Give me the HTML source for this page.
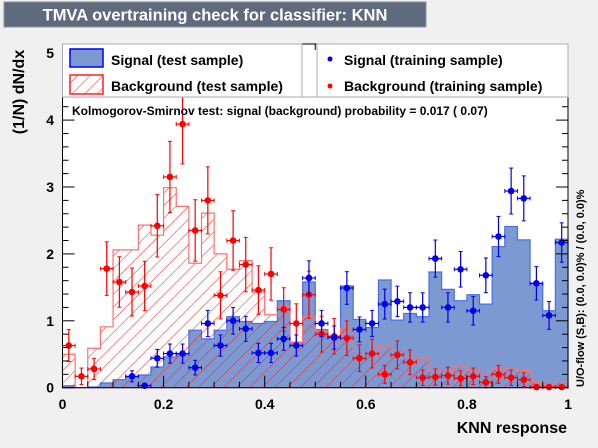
<!DOCTYPE html>
<html><head><meta charset="utf-8">
<style>
html,body{margin:0;padding:0;background:#f0f0f0;}
body{width:598px;height:443px;overflow:hidden;font-family:"Liberation Sans",sans-serif;}
</style></head>
<body>
<svg id="chart" width="598" height="443" xmlns="http://www.w3.org/2000/svg" font-family="Liberation Sans, sans-serif">
<defs>
<pattern id="hatch" patternUnits="userSpaceOnUse" width="9" height="9" patternTransform="rotate(45)">
<line x1="0" y1="0" x2="0" y2="9" stroke="#ff2020" stroke-width="1"/>
</pattern>
</defs>
<rect x="4" y="2" width="422" height="25" fill="#5f6b7c" stroke="#8a94a2"/>
<text x="215" y="20.5" fill="#fff" font-size="16.5" font-weight="bold" text-anchor="middle">TMVA overtraining check for classifier: KNN</text>
<rect x="62.5" y="44" width="505.5" height="343.7" fill="#fff"/>
<g id="bars"></g>
<g id="points"></g>
<g id="axes"></g>
<rect x="62.5" y="44" width="505.5" height="343.7" fill="none" stroke="#000" stroke-width="1"/>
<g>
<rect x="62.5" y="44" width="239.5" height="53" fill="#fff" stroke="#aab" />
<rect x="70" y="49" width="33" height="18" fill="#7d99d1" stroke="#0000ee" stroke-width="1.5"/>
<text x="111" y="65" font-size="14" font-weight="bold">Signal (test sample)</text>
<rect x="70" y="75" width="33" height="19" fill="url(#hatch)" stroke="#ff2020" stroke-width="1.5"/>
<text x="111" y="91" font-size="14" font-weight="bold">Background (test sample)</text>
</g>
<g>
<rect x="317" y="44" width="251" height="53" fill="#fff" stroke="#aab" />
<circle cx="330" cy="59" r="2.5" fill="#0000ee"/>
<text x="344" y="65" font-size="14" font-weight="bold">Signal (training sample)</text>
<circle cx="330" cy="86" r="2.5" fill="#ff0000"/>
<text x="344" y="91" font-size="14" font-weight="bold">Background (training sample)</text>
</g>
<line x1="62.5" y1="97" x2="568" y2="97" stroke="#aab"/>
<text x="72" y="115" font-size="12" font-weight="bold">Kolmogorov-Smirnov test: signal (background) probability = 0.017 ( 0.07)</text>
<text transform="translate(24,92) rotate(-90)" font-size="16" font-weight="bold" text-anchor="middle">(1/N) dN/dx</text>
<text x="567" y="433" font-size="16" font-weight="bold" text-anchor="end">KNN response</text>
<text transform="translate(584,387) rotate(-90)" font-size="11" font-weight="bold">U/O-flow (S,B): (0.0, 0.0)% / (0.0, 0.0)%</text>
</svg>
<script>
const sigTest=[0.03,0,0.01,0.07,0.12,0.16,0.19,0.31,0.46,0.49,0.86,0.73,0.86,1.06,0.99,0.96,0.99,1.30,0.68,1.58,0.87,0.77,1.52,1.02,0.90,1.61,1.01,1.11,1.06,1.73,1.47,1.30,1.39,1.25,2.11,2.41,2.21,1.56,1.15,2.22];
const bkgTest=[0.50,0,0.59,0.91,2.06,2.06,2.43,2.28,2.99,2.71,1.86,2.61,2.00,1.77,1.90,1.43,1.09,1.21,0.67,1.06,0.86,0.77,0.89,0.54,0.54,0.61,0.57,0.45,0.44,0.25,0.25,0.31,0.26,0.24,0.28,0.28,0.26,0.08,0.04,0.09];
const sigTrain=[null,null,null,null,null,0.17,0.03,0.44,0.51,0.51,0.30,0.96,0.63,1.00,0.88,0.52,0.52,0.73,0.63,1.64,0.96,0.75,1.49,0.87,0.96,1.25,1.29,1.20,1.20,1.93,1.20,1.77,1.15,1.68,2.26,2.94,2.83,1.56,1.08,2.17];
const bkgTrain=[0.63,0.17,0.28,1.78,1.58,1.43,1.52,2.42,3.15,3.94,2.35,2.80,1.38,2.20,1.84,1.46,1.70,1.17,0.96,1.39,0.80,0.77,0.74,0.44,0.51,0.20,0.49,0.38,0.15,0.16,0.18,0.14,0.17,0.08,0.20,0.15,0.12,0.01,0.01,0.01];
const xTicks=["0","0.2","0.4","0.6","0.8","1"];
const yTicks=["0","1","2","3","4","5"];
const NB=40;
const X0=62.5,X1=568,Y0=387.7,YU=66.9;
const sx=v=>X0+(X1-X0)*v;
const sy=v=>Y0-YU*v;
const NS='http://www.w3.org/2000/svg';
function mk(tag,attrs,parent){const e=document.createElementNS(NS,tag);for(const k in attrs)e.setAttribute(k,attrs[k]);parent.appendChild(e);return e;}
const bars=document.getElementById('bars'),pts=document.getElementById('points'),axes=document.getElementById('axes');
function stepPath(arr){let d='M'+sx(0)+','+sy(0);arr.forEach((v,i)=>{d+=' L'+sx(i/NB)+','+sy(v)+' L'+sx((i+1)/NB)+','+sy(v);});d+=' L'+sx(1)+','+sy(0)+' Z';return d;}
let p=mk('path',{d:stepPath(sigTest),fill:'#7d99d1',stroke:'#4a6fe0','stroke-width':1.2},bars);


p=mk('path',{d:stepPath(bkgTest),fill:'url(#hatch)',stroke:'#ff7070','stroke-width':1.2},bars);


function drawPts(arr,col,k,name){arr.forEach((v,i)=>{if(v===null)return;const g=mk('g',{},pts);


const cx=sx((i+0.5)/NB),cy=sy(v),e=k*Math.sqrt(v)*YU,hw=(X1-X0)/NB/2;
mk('line',{x1:cx-hw,x2:cx+hw,y1:cy,y2:cy,stroke:col,'stroke-width':1.2},g);
mk('line',{x1:cx,x2:cx,y1:Math.min(Y0,cy+e),y2:cy-e,stroke:col,'stroke-width':1.2},g);
mk('line',{x1:cx-2,x2:cx+2,y1:cy-e,y2:cy-e,stroke:col,'stroke-width':1},g);
mk('line',{x1:cx-2,x2:cx+2,y1:Math.min(Y0,cy+e),y2:Math.min(Y0,cy+e),stroke:col,'stroke-width':1},g);
mk('line',{x1:cx-hw,x2:cx-hw,y1:cy-2,y2:cy+2,stroke:col,'stroke-width':1},g);
mk('line',{x1:cx+hw,x2:cx+hw,y1:cy-2,y2:cy+2,stroke:col,'stroke-width':1},g);
mk('circle',{cx:cx,cy:cy,r:3.3,fill:col},g);});}
drawPts(bkgTrain,'#ff0000',0.3,'background-training');
drawPts(sigTrain,'#0000ee',0.2,'signal-training');
// ticks
for(let i=0;i<=20;i++){const v=i*0.05,x=sx(v),L=(i%4===0)?12:6;
mk('line',{x1:x,x2:x,y1:Y0,y2:Y0-L,stroke:'#000'},axes);
mk('line',{x1:x,x2:x,y1:44,y2:44+L,stroke:'#000'},axes);}
xTicks.forEach((t,i)=>{const tx=mk('text',{x:sx(i*0.2),y:409,'font-size':14,'font-weight':'bold','text-anchor':'middle'},axes);tx.textContent=t;

});
for(let i=0;i<=25;i++){const v=i*0.2,y=sy(v),L=(i%5===0)?12:6;if(y<44)continue;
mk('line',{x1:X0,x2:X0+L,y1:y,y2:y,stroke:'#000'},axes);
mk('line',{x1:X1,x2:X1-L,y1:y,y2:y,stroke:'#000'},axes);}
yTicks.forEach((t,i)=>{const tx=mk('text',{x:54,y:sy(i)+5,'font-size':14,'font-weight':'bold','text-anchor':'end'},axes);tx.textContent=t;

});
</script>
</body></html>
